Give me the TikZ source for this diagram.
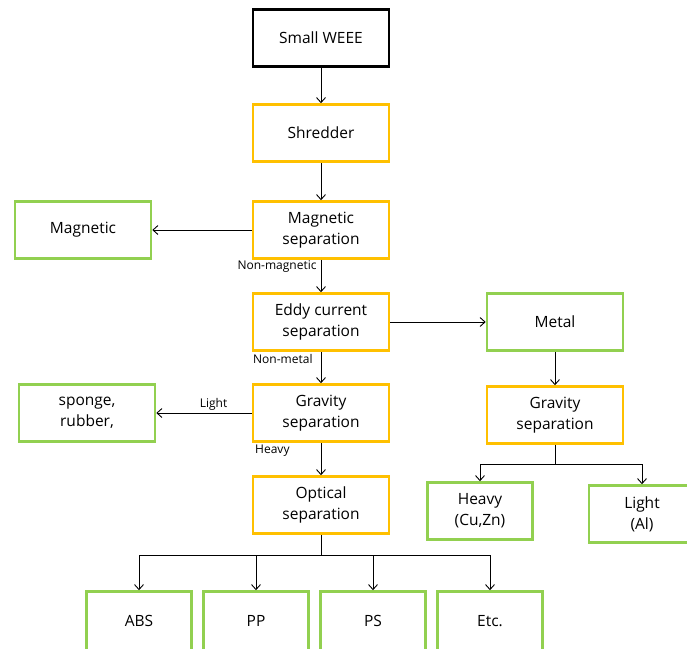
\documentclass[tikz,border=0pt]{standalone}
\usepackage{fontspec}
\setmainfont{Open Sans}
\usetikzlibrary{arrows.meta}
\definecolor{procyellow}{RGB}{255,192,0}
\definecolor{outgreen}{RGB}{146,208,80}

\begin{document}
\begin{tikzpicture}[x=1pt,y=-1pt,>={Straight Barb[length=5pt,width=9pt]},line width=0.9pt,
  box/.style={rectangle,draw,line width=2.6pt,fill=white,align=center,
    minimum width=136pt,minimum height=57pt,font=\fontsize{15.5}{21}\selectfont},
  proc box/.style={box,draw=procyellow},
  out box/.style={box,draw=outgreen},
  small box/.style={out box,minimum width=105pt},
  flow label/.style={font=\fontsize{12}{14}\selectfont,inner sep=1pt}]

  \useasboundingbox (0,0) rectangle (687,648);

  % main line
  \node[box,draw=black] (weee) at (321,38) {Small WEEE};
  \node[proc box] (shred) [node distance=95pt,below of=weee] {Shredder};
  \node[proc box] (magsep) [node distance=97pt,below of=shred] {Magnetic\\separation};
  \node[proc box] (eddy) [node distance=92pt,below of=magsep] {Eddy current\\separation};
  \node[proc box] (grav) [node distance=91pt,below of=eddy] {Gravity\\separation};
  \node[proc box] (optical) [node distance=92pt,below of=grav] {Optical\\separation};

  % side outputs
  \node[out box] (magn) [node distance=238pt,left of=magsep] {Magnetic};
  \node[out box] (sponge) [node distance=234pt,left of=grav] {sponge,\\rubber,};
  \node[out box] (metal) [node distance=234pt,right of=eddy] {Metal};
  \node[proc box] (mgrav) [node distance=93pt,below of=metal] {Gravity\\separation};
  \node[small box] (heavy) at (480,511) {Heavy\\(Cu,Zn)};
  \node[small box,minimum width=106pt] (light) at (642,514) {Light\\(Al)};

  % plastics
  \node[small box,minimum height=59pt] (abs) at (139,621) {ABS};
  \node[small box,minimum height=59pt] (pp) [node distance=117pt,right of=abs] {PP};
  \node[small box,minimum height=59pt] (ps) [node distance=117pt,right of=pp] {PS};
  \node[small box,minimum height=59pt] (etc) [node distance=117pt,right of=ps] {Etc.};

  \path[->]
    (weee) edge (shred)
    (shred) edge (magsep)
    (magsep) edge (magn)
    (magsep) edge node[flow label,pos=0.22,left=3pt] {Non-magnetic} (eddy)
    (eddy) edge (metal)
    (eddy) edge node[flow label,pos=0.22,left=7pt] {Non-metal} (grav)
    (grav) edge node[flow label,pos=0.4,above=1pt] {Light} (sponge)
    (grav) edge node[flow label,pos=0.25,left=30pt] {Heavy} (optical)
    (metal) edge (mgrav);

  \coordinate[node distance=50pt,below of=optical] (obr);
  \draw (optical) -- (obr);
  \draw[->] (obr) -| (abs);
  \draw[->] (obr) -| (pp);
  \draw[->] (obr) -| (ps);
  \draw[->] (obr) -| (etc);

  \coordinate[node distance=49pt,below of=mgrav] (mbr);
  \draw (mgrav) -- (mbr);
  \draw[->] (mbr) -| (heavy);
  \draw[->] (mbr) -| (light);
\end{tikzpicture}
\end{document}
